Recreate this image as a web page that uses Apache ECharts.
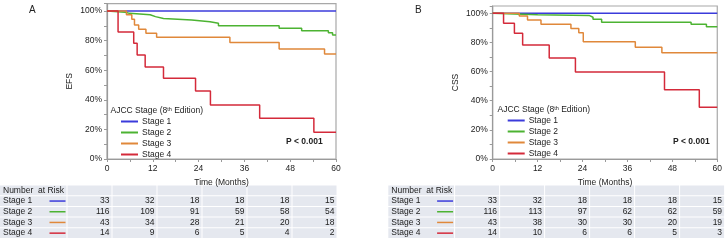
<!DOCTYPE html>
<html>
<head>
<meta charset="utf-8">
<script src="https://cdn.jsdelivr.net/npm/echarts@6/dist/echarts.min.js"></script>
<style>
  html, body { margin: 0; padding: 0; background: #fff; }
  #main { width: 725px; height: 240px; }
</style>
</head>
<body>
<div id="main"></div>
<script>
// survival curves, [months, percent]
var efsStage1 = [[0, 100], [60, 100]];
var efsStage2 = [[0, 100], [0.5, 99.2], [4.8, 98.4], [5.9, 97.5], [11.3, 96.2], [12.7, 94.9], [14.8, 93.9], [22.2, 92.8], [27, 91.7], [29.2, 90], [45.1, 88.3], [51, 86.7], [58, 85.3], [59.1, 83.8], [60, 83.8]];
var efsStage3 = [[0, 100], [5.1, 97.5], [6.5, 94.5], [7.2, 90.5], [8.3, 87.6], [10.2, 85], [13, 82.2], [32.2, 78.8], [45.1, 74.3], [57, 70.9], [60, 70.9]];
var efsStage4 = [[0, 100], [2.9, 85.8], [7, 78.2], [7.9, 70.3], [10, 62.2], [14.8, 54.5], [23.2, 46], [27.1, 36.5], [40, 27.5], [54.2, 18], [60, 18]];

var cssStage1 = [[0, 100], [60, 100]];
var cssStage2 = [[0, 100], [0.4, 99], [12, 98.4], [25.9, 97.3], [26.8, 95.9], [29.1, 93.8], [53, 92.4], [57.1, 90.8], [60, 90.8]];
var cssStage3 = [[0, 100], [7.1, 98.1], [9.3, 95.4], [12.9, 92.4], [20.9, 89.5], [23, 86.6], [24.2, 80.5], [38.1, 76.7], [45.2, 73], [60, 73]];
var cssStage4 = [[0, 100], [2.9, 93.1], [5.8, 86.3], [8, 78.2], [15.1, 69.3], [22.1, 59.7], [45.9, 47.6], [55.2, 35.5], [60, 35.5]];

// number at risk tables
var stageNames = ['Stage 1', 'Stage 2', 'Stage 3', 'Stage 4'];
var riskEfs1 = [33, 32, 18, 18, 18, 15];
var riskEfs2 = [116, 109, 91, 59, 58, 54];
var riskEfs3 = [43, 34, 28, 21, 20, 18];
var riskEfs4 = [14, 9, 6, 5, 4, 2];
var riskCss1 = [33, 32, 18, 18, 18, 15];
var riskCss2 = [116, 113, 97, 62, 62, 59];
var riskCss3 = [43, 38, 30, 30, 20, 19];
var riskCss4 = [14, 10, 6, 6, 5, 3];

var colors = ['#3b3bdb', '#4cb332', '#e0883a', '#d42a3a'];
var font = 'Liberation Sans, Arial, sans-serif';
var fs = 8.5;

var chart = echarts.init(document.getElementById('main'));

function xAxisOf(gridIndex) {
  return {
    type: 'value', gridIndex: gridIndex, min: 0, max: 60, interval: 12,
    name: 'Time (Months)', nameLocation: 'middle', nameGap: 13,
    nameTextStyle: { fontSize: fs, color: '#222', fontFamily: font },
    axisLine: { lineStyle: { color: '#9a9a9a', width: 1.2 } },
    axisTick: { length: 3, lineStyle: { color: '#9a9a9a' } },
    minorTick: { show: true, splitNumber: 2, length: 3, lineStyle: { color: '#9a9a9a' } },
    splitLine: { show: false },
    axisLabel: { fontSize: fs, color: '#222', fontFamily: font, margin: 5 }
  };
}

function yAxisOf(gridIndex, name) {
  return {
    type: 'value', gridIndex: gridIndex, min: 0, max: 105, interval: 20,
    name: name, nameLocation: 'middle', nameGap: 33,
    nameTextStyle: { fontSize: fs, color: '#222', fontFamily: font },
    axisLine: { lineStyle: { color: '#9a9a9a', width: 1.2 } },
    axisTick: { length: 3, lineStyle: { color: '#9a9a9a' } },
    minorTick: { show: true, splitNumber: 2, length: 3, lineStyle: { color: '#9a9a9a' } },
    splitLine: { show: false },
    axisLabel: {
      fontSize: fs, color: '#222', fontFamily: font, margin: 5, showMaxLabel: false,
      formatter: function (v) { return v > 100 ? '' : v + '%'; }
    }
  };
}

function curve(name, data, idx, color) {
  return {
    name: name, type: 'line', step: 'end', data: data,
    xAxisIndex: idx, yAxisIndex: idx,
    symbol: 'none', showSymbol: false, silent: true,
    lineStyle: { color: color, width: 1.5 },
    itemStyle: { color: color }
  };
}

// table drawn with graphic elements
function riskTable(x0, labelW, top, rows) {
  var els = [];
  var pitch = 10.7, h = 9.7, colW = 45;
  var bg = '#e5e8ef';
  for (var r = 0; r < 5; r++) {
    var y = top + r * pitch;
    els.push({ type: 'rect', shape: { x: x0, y: y, width: labelW - 1, height: h }, style: { fill: bg } });
    for (var c = 0; c < 6; c++) {
      els.push({ type: 'rect', shape: { x: x0 + labelW + c * colW, y: y, width: colW - 1, height: h }, style: { fill: bg } });
      if (r > 0) {
        els.push({
          type: 'text', x: x0 + labelW + (c + 1) * colW - 3, y: y + h / 2,
          style: { text: String(rows[r - 1][c]), fontSize: fs, fontFamily: font, fill: '#222', align: 'right', verticalAlign: 'middle' }
        });
      }
    }
    var label = r === 0 ? 'Number  at Risk' : stageNames[r - 1];
    els.push({
      type: 'text', x: x0 + 3, y: y + h / 2,
      style: { text: label, fontSize: fs, fontFamily: font, fill: '#222', align: 'left', verticalAlign: 'middle' }
    });
    if (r > 0) {
      els.push({
        type: 'line', shape: { x1: x0 + labelW - 18, y1: y + h / 2, x2: x0 + labelW - 2, y2: y + h / 2 },
        style: { stroke: colors[r - 1], lineWidth: 1.5 }
      });
    }
  }
  return els;
}

function plainText(x, y, text, extra) {
  var st = { text: text, fontSize: fs, fontFamily: font, fill: '#222', align: 'left', verticalAlign: 'middle' };
  for (var k in extra) st[k] = extra[k];
  return { type: 'text', x: x, y: y, style: st };
}

var legendTitle = 'AJCC Stage (8{sup|th} Edition)';
var supRich = { sup: { fontSize: 5.5, fontFamily: font, verticalAlign: 'top', padding: [0, 0, 4, 0] } };

var graphics = []
  .concat(riskTable(0, 67.5, 185.5, [riskEfs1, riskEfs2, riskEfs3, riskEfs4]))
  .concat(riskTable(388.3, 66.8, 185.5, [riskCss1, riskCss2, riskCss3, riskCss4]))
  .concat([
    plainText(29, 10, 'A', { fontSize: 10 }),
    plainText(415, 10, 'B', { fontSize: 10 }),
    plainText(110.5, 111, legendTitle, { rich: supRich }),
    plainText(497.5, 110, legendTitle, { rich: supRich }),
    plainText(286, 141.5, 'P < 0.001', { fontWeight: 'bold' }),
    plainText(673, 141.5, 'P < 0.001', { fontWeight: 'bold' })
  ]);

var legendBase = {
  orient: 'vertical', itemWidth: 17, itemHeight: 8, itemGap: 2, itemStyle: { opacity: 0 },
  selectedMode: false, padding: 0,
  textStyle: { fontSize: fs, color: '#222', fontFamily: font, padding: [0, 0, 0, -1] },
  data: stageNames
};

var option = {
  animation: false,
  grid: [
    { left: 107, width: 229, top: 3.6, height: 155.4, show: true, borderColor: '#a8a8a8', borderWidth: 1.2, backgroundColor: 'transparent' },
    { left: 492.7, width: 226.6, top: 6, height: 153, show: true, borderColor: '#a8a8a8', borderWidth: 1.2, backgroundColor: 'transparent' }
  ],
  xAxis: [xAxisOf(0), xAxisOf(1)],
  yAxis: [yAxisOf(0, 'EFS'), yAxisOf(1, 'CSS')],
  legend: [
    Object.assign({}, legendBase, { left: 120, top: 117 }),
    Object.assign({}, legendBase, { left: 506.7, top: 116 })
  ],
  series: [
    curve('Stage 1', efsStage1, 0, colors[0]),
    curve('Stage 2', efsStage2, 0, colors[1]),
    curve('Stage 3', efsStage3, 0, colors[2]),
    curve('Stage 4', efsStage4, 0, colors[3]),
    curve('Stage 1', cssStage1, 1, colors[0]),
    curve('Stage 2', cssStage2, 1, colors[1]),
    curve('Stage 3', cssStage3, 1, colors[2]),
    curve('Stage 4', cssStage4, 1, colors[3])
  ],
  graphic: graphics
};

chart.setOption(option);
</script>
</body>
</html>
